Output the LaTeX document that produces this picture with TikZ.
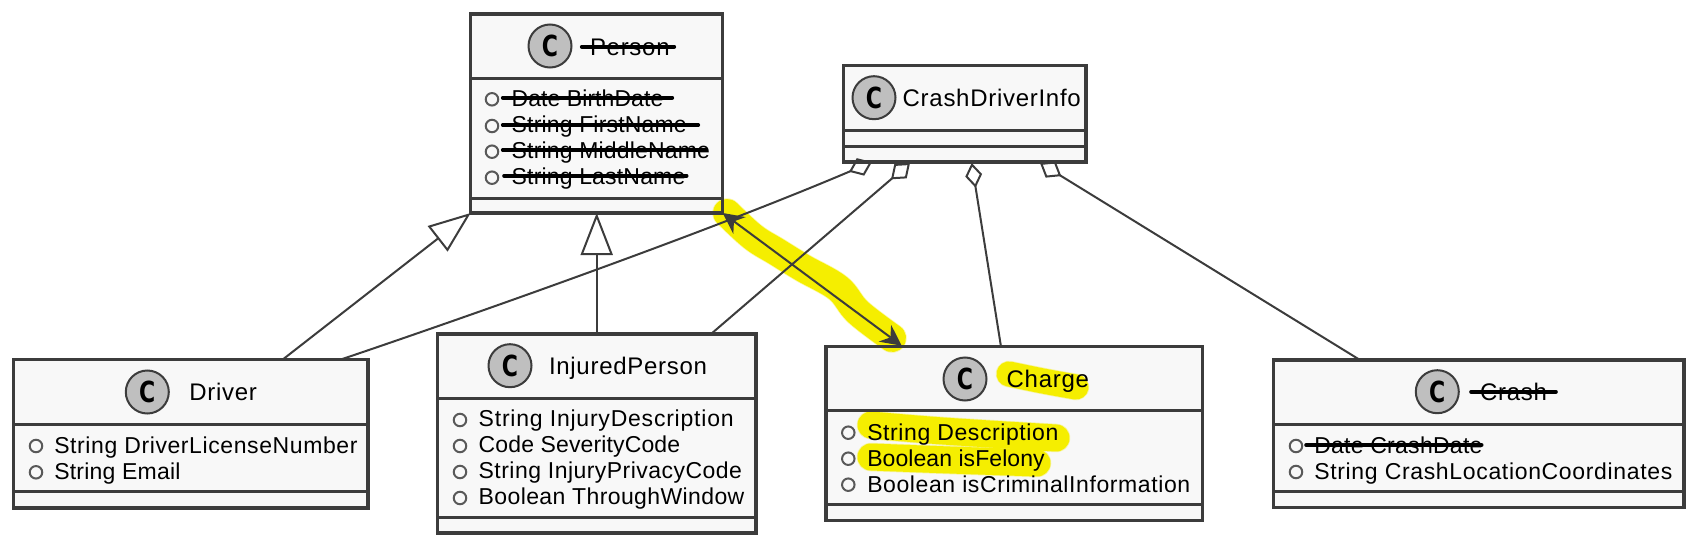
\documentclass[tikz,border=0pt]{standalone}
\usepackage{fontspec}
\setmainfont{Liberation Sans}
\newfontfamily\memfont{Liberation Sans}[LetterSpace=2.6]
\newfontfamily\titfont{Liberation Sans}[LetterSpace=3]
\newfontfamily\cfont{DejaVu Sans}[BoldFont={DejaVu Sans Bold}]
\usetikzlibrary{arrows.meta,calc}
\pgfdeclarelayer{fills}
\pgfdeclarelayer{hl}
\pgfdeclarelayer{conn}
\pgfsetlayers{fills,hl,conn,main}
\definecolor{boxfill}{HTML}{F8F8F8}
\definecolor{ink}{HTML}{3C3C3C}
\definecolor{marker}{HTML}{F5EE00}
\tikzset{
  classbox/.style={draw=ink,line width=3.1pt,inner sep=0pt,outer sep=0pt},
  secline/.style={draw=ink,line width=3pt},
  badge/.style={circle,draw=ink,line width=2pt,fill=black!25,minimum size=43pt,inner sep=0pt,outer sep=0pt,font=\cfont\bfseries\fontsize{29}{29}\selectfont},
  bullet/.style={circle,draw=black!65,line width=2pt,fill=none,minimum size=12.5pt,inner sep=0pt,outer sep=0pt},
  memtext/.style={anchor=base west,inner sep=0pt,outer sep=0pt,text=black,font=\memfont\fontsize{23}{23}\selectfont},
  tittext/.style={anchor=base west,inner sep=0pt,outer sep=0pt,text=black,font=\titfont\fontsize{24}{24}\selectfont},
  strikeout/.style={draw=black,line width=3.6pt,line cap=round},
  conline/.style={draw=ink,line width=2pt},
  hlbrush/.style={draw=marker,line cap=round,line join=round},
}
\newcommand{\umlclass}[7]{% name x1 y1 x2 y2 sec1 sec2
  \pgfmathsetmacro{\mycx}{(#2+#4)/2}\pgfmathsetmacro{\mycy}{(#3+#5)/2}
  \pgfmathsetmacro{\myw}{#4-#2}\pgfmathsetmacro{\myh}{#5-#3}
  \node[classbox,minimum width=\myw pt,minimum height=\myh pt] (#1) at (\mycx,\mycy) {};
  \begin{pgfonlayer}{fills}\fill[boxfill] (#1.south west) rectangle (#1.north east);\end{pgfonlayer}
  \draw[secline] (#2,#6) -- (#4,#6);
  \draw[secline] (#2,#7) -- (#4,#7);
}
\newcommand{\member}[6]{% name cx cy tx baseline text
  \node[bullet] (#1c) at (#2,#3) {};
  \node[memtext] (#1t) at (#4,#5) {#6};
}
\newcommand{\brush}[2]{% width, path
  \begin{pgfonlayer}{hl}
    \draw[hlbrush,line width=#1pt+1.5pt,opacity=.35] #2;
    \draw[hlbrush,line width=#1pt] #2;
  \end{pgfonlayer}
}
\newcommand{\cee}{\scalebox{0.76}[1.0]{C}}
\newcommand{\tracked}[2]{{\addfontfeature{LetterSpace=#1}#2}}
\begin{document}
\begin{tikzpicture}[x=1pt,y=-1pt]
\useasboundingbox (0,0) rectangle (1698,546);

\brush{28}{plot[smooth,tension=.6] coordinates {(727,213) (753,237) (777,252) (803,268) (838,288) (858,312) (892,338)}}
\brush{25}{plot[smooth,tension=.6] coordinates {(1009,374) (1043,381) (1076,387)}}
\brush{27}{plot[smooth,tension=.6] coordinates {(871,425) (943,431) (1056,438)}}
\brush{27}{plot[smooth,tension=.6] coordinates {(871,457) (950,460) (1037,463)}}

\umlclass{person}{470.7}{14}{722.7}{213}{78}{198}
\umlclass{cdi}{843.3}{65.7}{1086}{162}{130}{146}
\umlclass{driver}{13.5}{359.3}{368}{508}{424}{491.7}
\umlclass{injured}{437.7}{334}{756}{533}{398}{517.7}
\umlclass{charge}{826}{346.7}{1202.7}{520.7}{410.7}{504.3}
\umlclass{crash}{1273.3}{360}{1684}{507.7}{424}{491.7}

\node[badge] (personb) at (550,46) {\cee};
\node[tittext] (persont) at (590,55) {Person};
\draw[strikeout] (581.7,46.7) -- (674.3,46.7);
\member{pa}{492}{99.3}{511.7}{106.7}{\tracked{0.3}{Date BirthDate}}
\member{pb}{492}{126}{511.7}{132.7}{\tracked{0.8}{String FirstName}}
\member{pc}{492}{151.7}{511.7}{158.7}{\tracked{0.8}{String MiddleName}}
\member{pd}{492}{177.7}{511.7}{184.3}{\tracked{0.8}{String LastName}}
\draw[strikeout] (502.7,97.7) -- (672.3,97.7);
\draw[strikeout] (502.7,125) -- (698.3,125);
\draw[strikeout] (502.7,150) -- (706,150);
\draw[strikeout] (504,175.7) -- (686.7,175.7);

\node[badge] (cdib) at (874,97.7) {\cee};
\node[tittext] (cdit) at (902.7,106.7) {CrashDriverInfo};

\node[badge] (driverb) at (147.3,392) {\cee};
\node[tittext] (drivert) at (189.3,400) {Driver};
\member{da}{36}{446}{54.3}{453.3}{String DriverLicenseNumber}
\member{db}{36}{472.3}{54.3}{479.3}{\tracked{1}{String Email}}

\node[badge] (injuredb) at (510,365.7) {\cee};
\node[tittext] (injuredt) at (549,374.3) {InjuredPerson};
\member{ia}{460}{420}{478.7}{426.7}{\tracked{3.4}{String InjuryDescription}}
\member{ib}{460}{446}{478.7}{452.7}{\tracked{0.6}{Code SeverityCode}}
\member{ic}{460}{472}{478.7}{478.7}{\tracked{2}{String InjuryPrivacyCode}}
\member{id}{460}{498}{478.7}{504.7}{\tracked{1.7}{Boolean ThroughWindow}}

\node[badge] (chargeb) at (965,379) {\cee};
\node[tittext] (charget) at (1006.7,387.3) {Charge};
\member{ca}{848.3}{432.7}{867.3}{440}{String Description}
\member{cb}{848.3}{458.7}{867.3}{466}{\tracked{0.3}{Boolean isFelony}}
\member{cc}{848.3}{484.7}{867.3}{492}{Boolean isCriminalInformation}

\node[badge] (crashb) at (1437.3,391.7) {\cee};
\node[tittext] (crasht) at (1480,400.7) {Crash};
\draw[strikeout] (1471,391.7) -- (1556,391.7);
\member{ra}{1296}{446}{1314.3}{453.3}{\tracked{1.2}{Date CrashDate}}
\member{rb}{1296}{472}{1314.3}{479.3}{\tracked{2.9}{String CrashLocationCoordinates}}
\draw[strikeout] (1306,445) -- (1481.7,445);

\begin{pgfonlayer}{conn}
\draw[conline,-{Triangle[open,fill=white,length=42pt,width=32pt,line width=2pt]}]
  ($(driver.north west)+(269.5,0)$) -- (person.south west);
\draw[conline,-{Triangle[open,fill=white,length=42pt,width=32pt,line width=2pt]}]
  (injured.north -| person.south) -- (person.south);
\draw[conline,-{Diamond[open,fill=white,length=25pt,width=19pt,line width=2pt]}]
  ($(driver.north west)+(328,0)$) .. controls +(130,-44) and (705,233) .. ($(cdi.south west)+(28.7,0)$);
\draw[conline,-{Diamond[open,fill=white,length=25pt,width=19pt,line width=2pt]}]
  ($(injured.north west)+(273.3,0)$) -- ($(cdi.south west)+(66.7,1)$);
\draw[conline,-{Diamond[open,fill=white,length=25pt,width=17pt,line width=2pt]}]
  ($(charge.north west)+(175,0)$) -- ($(cdi.south west)+(128.4,1)$);
\draw[conline,-{Diamond[open,fill=white,length=25pt,width=19pt,line width=2pt]}]
  ($(crash.north west)+(86.7,0)$) -- ($(cdi.south west)+(196.7,1)$);
\draw[conline,{Stealth[length=21pt,width=21pt,inset=7pt,line width=0pt]}-{Stealth[length=21pt,width=21pt,inset=7pt,line width=0pt]}]
  (person.south east) -- ($(charge.north west)+(75.7,-1)$);
\end{pgfonlayer}
\end{tikzpicture}
\end{document}
